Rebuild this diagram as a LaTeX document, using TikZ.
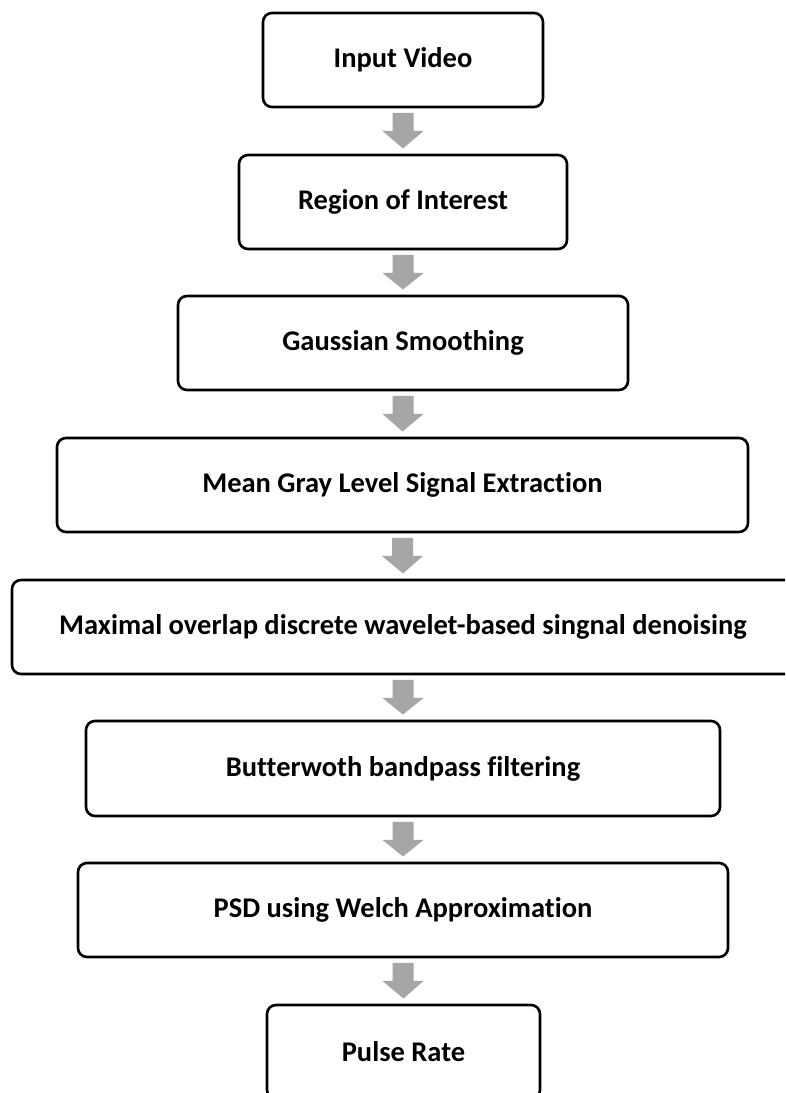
\documentclass[tikz,border=0pt]{standalone}
\usepackage{fontspec}
\setmainfont[Ligatures={NoCommon}]{Carlito}
\usetikzlibrary{calc}
\definecolor{arrgray}{RGB}{166,166,166}
\tikzset{
  stepbox/.style={draw=black, line width=2.6pt, rounded corners=9pt, fill=white,
    inner sep=0pt, outer sep=0pt, align=center,
    font=\fontsize{28.5}{34}\selectfont\bfseries},
  blockarr/.style={fill=arrgray, draw=none}
}
\newcommand{\blockarrow}[2]{%
  \fill[blockarr] ($(#1.south)+(-10.5,-6)$) -- ($(#1.south)+(10.5,-6)$)
    -- ($(#1.south)+(10.5,-24)$) -- ($(#1.south)+(20.5,-24)$)
    -- ($(#2.north)+(0,6.5)$)
    -- ($(#1.south)+(-20.5,-24)$) -- ($(#1.south)+(-10.5,-24)$) -- cycle;}
\begin{document}
\begin{tikzpicture}[x=1pt,y=1pt]
\useasboundingbox (0,0) rectangle (785,1093);
\clip (0,0) rectangle (785,1093);
\fill[white] (0,0) rectangle (785,1093);
\node[stepbox, minimum width=280, minimum height=94] (n1) at (403,1033) {Input Video};
\node[stepbox, minimum width=328, minimum height=94] (n2) at (403,891) {Region of Interest};
\node[stepbox, minimum width=450, minimum height=94] (n3) at (403,750) {Gaussian Smoothing};
\node[stepbox, minimum width=691, minimum height=94] (n4) at (402.5,608) {Mean Gray Level Signal Extraction};
\node[stepbox, minimum width=782, minimum height=94] (n5) at (403,466) {Maximal overlap discrete wavelet-based singnal denoising};
\node[stepbox, minimum width=634, minimum height=95] (n6) at (403,324.5) {Butterwoth bandpass filtering};
\node[stepbox, minimum width=650, minimum height=94] (n7) at (403,183) {PSD using Welch Approximation};
\node[stepbox, minimum width=273, minimum height=94] (n8) at (403.5,41) {Pulse Rate};
\blockarrow{n1}{n2}
\blockarrow{n2}{n3}
\blockarrow{n3}{n4}
\blockarrow{n4}{n5}
\blockarrow{n5}{n6}
\blockarrow{n6}{n7}
\blockarrow{n7}{n8}
\end{tikzpicture}
\end{document}
